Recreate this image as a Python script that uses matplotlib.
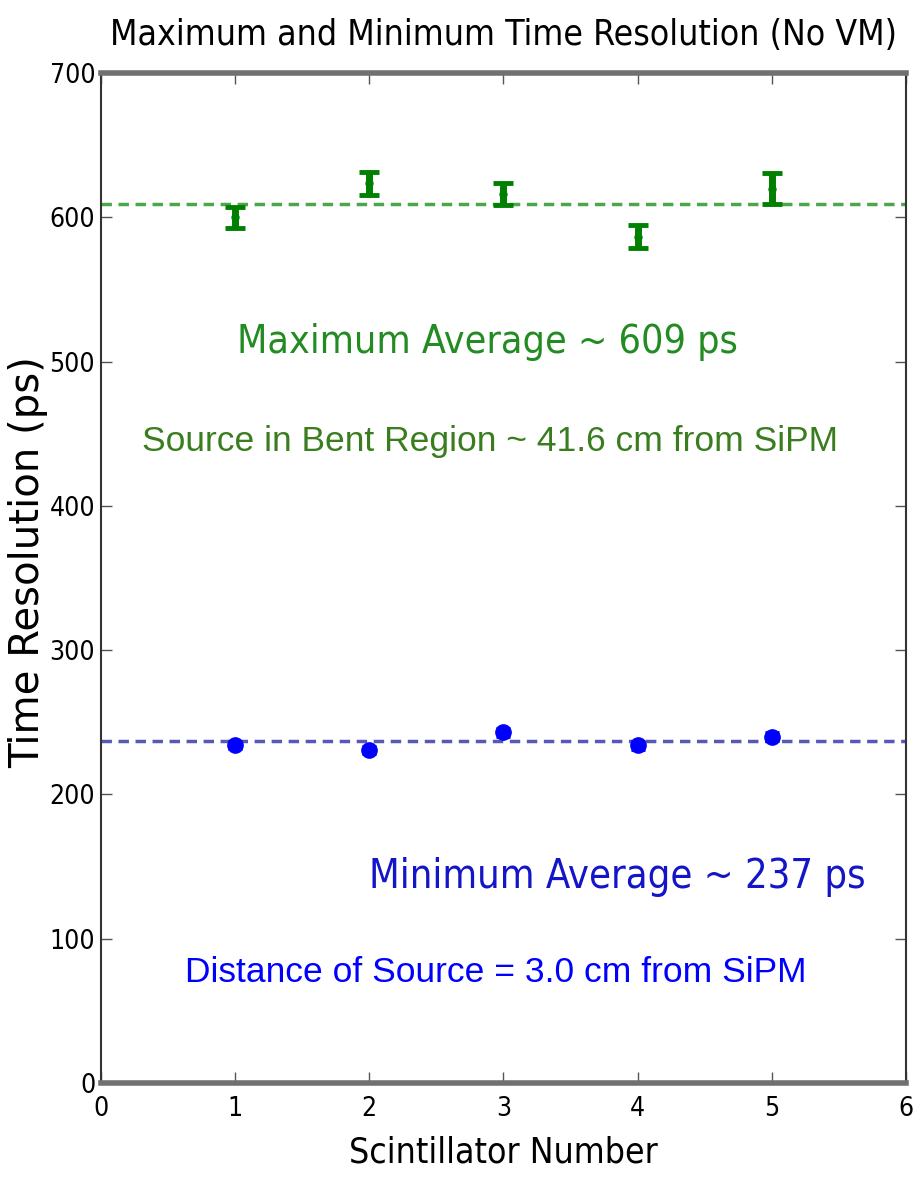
import matplotlib
matplotlib.use("Agg")
import matplotlib.pyplot as plt

## data
scint = [1, 2, 3, 4, 5]
max_res = [600, 623.5, 616, 586.5, 620]
max_err = [7.5, 8, 7.5, 8, 10.5]
min_res = [234.2, 230.8, 243, 234, 240]
min_err = [3, 3, 3, 3, 3]
max_avg = 609
min_avg = 237

xticks = [0, 1, 2, 3, 4, 5, 6]
yticks = [0, 100, 200, 300, 400, 500, 600, 700]

cond = dict(family="DejaVu Sans", stretch="condensed")

fig = plt.figure(figsize=(9.16, 11.79), dpi=100)
ax = fig.add_axes([0.110, 0.0814, 0.879, 0.8566])

## average lines
ax.axhline(max_avg, color="green", alpha=0.7, lw=2.5, ls=(0, (3, 1.9)))
ax.axhline(min_avg, color="#2020a0", alpha=0.75, lw=2.5, ls=(0, (3, 1.9)))

## points with error bars
ax.errorbar(scint, max_res, yerr=max_err, fmt="o", color="green", ms=5,
            elinewidth=5, capsize=7, capthick=3.5, zorder=3)
ax.errorbar(scint, min_res, yerr=min_err, fmt="o", color="blue", ms=11,
            elinewidth=2, capsize=5, capthick=2, zorder=3)

## annotations
ax.text(2.885, 506, "Maximum Average ~ 609 ps", color="#228b22", fontsize=28.2,
        ha="center", va="baseline", **cond)
ax.text(2.90, 438, "Source in Bent Region ~ 41.6 cm from SiPM", color="#3a7d1e",
        fontsize=25.5, family="Liberation Sans", ha="center", va="baseline")
ax.text(3.85, 135, "Minimum Average ~ 237 ps", color="#1414c8", fontsize=28.5,
        ha="center", va="baseline", **cond)
ax.text(2.94, 70, "Distance of Source = 3.0 cm from SiPM", color="blue",
        fontsize=25.5, family="Liberation Sans", ha="center", va="baseline")

ax.set_xlim(0, 6)
ax.set_ylim(0, 700)
ax.set_xticks(xticks)
ax.set_yticks(yticks)
ax.set_xticklabels([str(t) for t in xticks], fontsize=19, **cond)
ax.set_yticklabels([str(t) for t in yticks], fontsize=19, **cond)
ax.tick_params(direction="in", length=8, width=1, color="#555555",
               top=True, right=True)
ax.tick_params(axis="x", pad=9)
ax.tick_params(axis="y", pad=4)

ax.set_title("Maximum and Minimum Time Resolution (No VM)", fontsize=25.5,
             pad=20, **cond)
ax.set_xlabel("Scintillator Number", fontsize=25.5, labelpad=10, **cond)
ax.set_ylabel("Time Resolution (ps)", fontsize=29, family="DejaVu Sans")
ax.yaxis.set_label_coords(-0.065, 0.516)

for s in ["top", "bottom"]:
    ax.spines[s].set_linewidth(4)
    ax.spines[s].set_color("#707070")
for s in ["left", "right"]:
    ax.spines[s].set_linewidth(1.5)
    ax.spines[s].set_color("#333333")

fig.savefig("out.png", dpi=100)
